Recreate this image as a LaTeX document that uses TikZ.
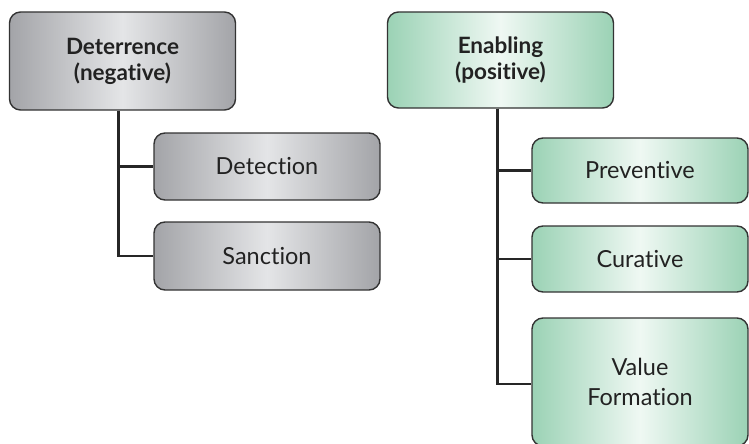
\documentclass[tikz,border=0pt]{standalone}
\usepackage{fontspec}
\setmainfont{Lato}[Ligatures=NoCommon]
\usepackage{tikz}
\usetikzlibrary{positioning,calc}

\definecolor{boxline}{HTML}{333333}
\definecolor{txt}{HTML}{222222}
\definecolor{greyedge}{HTML}{A3A4A8}
\definecolor{greymid}{HTML}{E4E5E7}
\definecolor{greenedge}{HTML}{9BD2B5}
\definecolor{greenmid}{HTML}{EFF8F3}

\begin{document}
\begin{tikzpicture}[x=1pt,y=-1pt,
    box/.style={draw=boxline, line width=1.4pt, rounded corners=11pt,
        minimum width=226pt, text=txt, align=center, inner sep=0pt,
        font=\fontsize{23.5}{30}\selectfont},
    greybox/.style={box, left color=greyedge, right color=greyedge, middle color=greymid},
    greenbox/.style={box, left color=greenedge, right color=greenedge, middle color=greenmid},
    headfont/.style={font=\bfseries\fontsize{22.5}{26}\selectfont},
    link/.style={draw=black!85, line width=2.4pt}]
        \useasboundingbox (0,0) rectangle (749,444);
        \clip (0,0) rectangle (749,444);

        % Deterrence
        \node[greybox, headfont, minimum height=98pt] (det) at (122.5,61) {Deterrence\\(negative)};
        \node[greybox, minimum height=67pt] (detect) at (267,166.5) {Detection};
        \node[greybox, minimum height=68pt] (sanct) at (267,256) {Sanction};
        \draw[link] ([xshift=-4pt]det.south) |- (detect.west);
        \draw[link] ([xshift=-4pt]det.south) |- (sanct.west);

        % Enabling
        \node[greenbox, headfont, minimum height=96pt] (enab) at (500.5,60) {Enabling\\(positive)};
        \node[greenbox, minimum width=216pt, minimum height=65pt] (prev) at (640,170.5) {Preventive};
        \node[greenbox, minimum width=216pt, minimum height=66pt] (cur) at (640,259) {Curative};
        \node[greenbox, minimum width=216pt, minimum height=128pt] (val) at (640,382) {Value\\Formation};
        \draw[link] ([xshift=-3pt]enab.south) |- (prev.west);
        \draw[link] ([xshift=-3pt]enab.south) |- (cur.west);
        \draw[link] ([xshift=-3pt]enab.south) |- ([yshift=-2pt]val.west);
\end{tikzpicture}
\end{document}
